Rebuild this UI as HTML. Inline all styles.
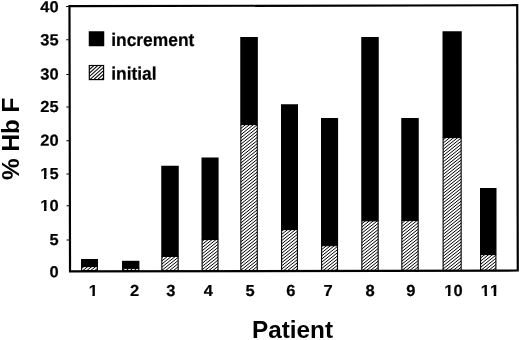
<!DOCTYPE html>
<html><head><meta charset="utf-8"><title>Patient Hb F</title>
<style>
html,body{margin:0;padding:0;background:#fff;}
body{width:520px;height:340px;overflow:hidden;}
svg{display:block;}
text{font-family:"Liberation Sans",Arial,Helvetica,sans-serif;font-weight:bold;fill:#000;}
.tk{font-size:16px;stroke:#000;stroke-width:0.2px;font-kerning:none;}
.lg{font-size:18.2px;stroke:#000;stroke-width:0.2px;}
.ti{font-size:24.3px;}
</style></head><body>
<svg width="520" height="340" viewBox="0 0 520 340">
<defs><filter id="soft" x="0" y="0" width="520" height="340" filterUnits="userSpaceOnUse"><feGaussianBlur stdDeviation="0.3"/></filter></defs>
<rect x="0" y="0" width="520" height="340" fill="#fff"/>
<g filter="url(#soft)">
<rect x="0" y="0" width="520" height="340" fill="#fff"/>

<g transform="rotate(-0.12 290 138)">
<rect x="69.75" y="5.7" width="447.75" height="265.3" fill="none" stroke="#000" stroke-width="2.2"/>
<line x1="66.4" y1="6.00" x2="69" y2="6.00" stroke="#000" stroke-width="1"/>
<line x1="66.4" y1="39.40" x2="69" y2="39.40" stroke="#000" stroke-width="1"/>
<line x1="66.4" y1="74.00" x2="69" y2="74.00" stroke="#000" stroke-width="1"/>
<line x1="66.4" y1="106.50" x2="69" y2="106.50" stroke="#000" stroke-width="1"/>
<line x1="66.4" y1="140.20" x2="69" y2="140.20" stroke="#000" stroke-width="1"/>
<line x1="66.4" y1="173.50" x2="69" y2="173.50" stroke="#000" stroke-width="1"/>
<line x1="66.4" y1="205.40" x2="69" y2="205.40" stroke="#000" stroke-width="1"/>
<line x1="66.4" y1="239.50" x2="69" y2="239.50" stroke="#000" stroke-width="1"/>
</g>
<rect x="81" y="259" width="17.00" height="7.50" fill="#000"/>
<rect x="122" y="260.8" width="17.40" height="7.50" fill="#000"/>
<rect x="161.25" y="165.75" width="17.50" height="90.65" fill="#000"/>
<rect x="201.5" y="157.5" width="17.10" height="82.00" fill="#000"/>
<rect x="240.25" y="37" width="17.60" height="87.50" fill="#000"/>
<rect x="281" y="104.25" width="17.00" height="125.25" fill="#000"/>
<rect x="321" y="118" width="17.10" height="127.60" fill="#000"/>
<rect x="361.25" y="37" width="17.50" height="183.75" fill="#000"/>
<rect x="401.25" y="118" width="17.50" height="102.50" fill="#000"/>
<rect x="442.5" y="31.25" width="19.25" height="106.25" fill="#000"/>
<rect x="480" y="188" width="16.50" height="66.50" fill="#000"/>
<clipPath id="hc"><rect x="81.60" y="266.55" width="15.80" height="3.95"/><rect x="122.60" y="268.35" width="16.20" height="2.15"/><rect x="161.85" y="256.45" width="16.30" height="14.05"/><rect x="202.10" y="239.55" width="15.90" height="30.95"/><rect x="240.85" y="124.55" width="16.40" height="145.95"/><rect x="281.60" y="229.55" width="15.80" height="40.95"/><rect x="321.60" y="245.65" width="15.90" height="24.85"/><rect x="361.85" y="220.80" width="16.30" height="49.70"/><rect x="401.85" y="220.55" width="16.30" height="49.95"/><rect x="443.10" y="137.55" width="18.05" height="132.95"/><rect x="480.60" y="254.55" width="15.30" height="15.95"/></clipPath>
<path clip-path="url(#hc)" d="M-429.19 340L-4.19 0M-425.25 340L-0.25 0M-421.31 340L3.69 0M-417.37 340L7.63 0M-413.44 340L11.56 0M-409.50 340L15.50 0M-405.56 340L19.44 0M-401.62 340L23.38 0M-397.69 340L27.31 0M-393.75 340L31.25 0M-389.81 340L35.19 0M-385.87 340L39.13 0M-381.94 340L43.06 0M-378.00 340L47.00 0M-374.06 340L50.94 0M-370.12 340L54.88 0M-366.19 340L58.81 0M-362.25 340L62.75 0M-358.31 340L66.69 0M-354.37 340L70.63 0M-350.44 340L74.56 0M-346.50 340L78.50 0M-342.56 340L82.44 0M-338.62 340L86.38 0M-334.69 340L90.31 0M-330.75 340L94.25 0M-326.81 340L98.19 0M-322.87 340L102.13 0M-318.94 340L106.06 0M-315.00 340L110.00 0M-311.06 340L113.94 0M-307.12 340L117.88 0M-303.19 340L121.81 0M-299.25 340L125.75 0M-295.31 340L129.69 0M-291.37 340L133.63 0M-287.44 340L137.56 0M-283.50 340L141.50 0M-279.56 340L145.44 0M-275.62 340L149.38 0M-271.69 340L153.31 0M-267.75 340L157.25 0M-263.81 340L161.19 0M-259.87 340L165.13 0M-255.94 340L169.06 0M-252.00 340L173.00 0M-248.06 340L176.94 0M-244.12 340L180.88 0M-240.19 340L184.81 0M-236.25 340L188.75 0M-232.31 340L192.69 0M-228.37 340L196.63 0M-224.44 340L200.56 0M-220.50 340L204.50 0M-216.56 340L208.44 0M-212.62 340L212.38 0M-208.69 340L216.31 0M-204.75 340L220.25 0M-200.81 340L224.19 0M-196.87 340L228.13 0M-192.94 340L232.06 0M-189.00 340L236.00 0M-185.06 340L239.94 0M-181.12 340L243.88 0M-177.19 340L247.81 0M-173.25 340L251.75 0M-169.31 340L255.69 0M-165.37 340L259.62 0M-161.44 340L263.56 0M-157.50 340L267.50 0M-153.56 340L271.44 0M-149.62 340L275.38 0M-145.69 340L279.31 0M-141.75 340L283.25 0M-137.81 340L287.19 0M-133.87 340L291.12 0M-129.94 340L295.06 0M-126.00 340L299.00 0M-122.06 340L302.94 0M-118.12 340L306.88 0M-114.19 340L310.81 0M-110.25 340L314.75 0M-106.31 340L318.69 0M-102.37 340L322.62 0M-98.44 340L326.56 0M-94.50 340L330.50 0M-90.56 340L334.44 0M-86.62 340L338.38 0M-82.69 340L342.31 0M-78.75 340L346.25 0M-74.81 340L350.19 0M-70.87 340L354.12 0M-66.94 340L358.06 0M-63.00 340L362.00 0M-59.06 340L365.94 0M-55.12 340L369.88 0M-51.19 340L373.81 0M-47.25 340L377.75 0M-43.31 340L381.69 0M-39.37 340L385.62 0M-35.44 340L389.56 0M-31.50 340L393.50 0M-27.56 340L397.44 0M-23.62 340L401.38 0M-19.69 340L405.31 0M-15.75 340L409.25 0M-11.81 340L413.19 0M-7.87 340L417.12 0M-3.94 340L421.06 0M0.00 340L425.00 0M3.94 340L428.94 0M7.87 340L432.88 0M11.81 340L436.81 0M15.75 340L440.75 0M19.69 340L444.69 0M23.62 340L448.62 0M27.56 340L452.56 0M31.50 340L456.50 0M35.44 340L460.44 0M39.37 340L464.38 0M43.31 340L468.31 0M47.25 340L472.25 0M51.19 340L476.19 0M55.12 340L480.12 0M59.06 340L484.06 0M63.00 340L488.00 0M66.94 340L491.94 0M70.87 340L495.88 0M74.81 340L499.81 0M78.75 340L503.75 0M82.69 340L507.69 0M86.62 340L511.62 0M90.56 340L515.56 0M94.50 340L519.50 0M98.44 340L523.44 0M102.37 340L527.38 0M106.31 340L531.31 0M110.25 340L535.25 0M114.19 340L539.19 0M118.12 340L543.12 0M122.06 340L547.06 0M126.00 340L551.00 0M129.94 340L554.94 0M133.87 340L558.88 0M137.81 340L562.81 0M141.75 340L566.75 0M145.69 340L570.69 0M149.62 340L574.62 0M153.56 340L578.56 0M157.50 340L582.50 0M161.44 340L586.44 0M165.37 340L590.38 0M169.31 340L594.31 0M173.25 340L598.25 0M177.19 340L602.19 0M181.12 340L606.12 0M185.06 340L610.06 0M189.00 340L614.00 0M192.94 340L617.94 0M196.87 340L621.88 0M200.81 340L625.81 0M204.75 340L629.75 0M208.69 340L633.69 0M212.62 340L637.62 0M216.56 340L641.56 0M220.50 340L645.50 0M224.44 340L649.44 0M228.37 340L653.38 0M232.31 340L657.31 0M236.25 340L661.25 0M240.19 340L665.19 0M244.12 340L669.12 0M248.06 340L673.06 0M252.00 340L677.00 0M255.94 340L680.94 0M259.87 340L684.88 0M263.81 340L688.81 0M267.75 340L692.75 0M271.69 340L696.69 0M275.62 340L700.62 0M279.56 340L704.56 0M283.50 340L708.50 0M287.44 340L712.44 0M291.37 340L716.38 0M295.31 340L720.31 0M299.25 340L724.25 0M303.19 340L728.19 0M307.12 340L732.12 0M311.06 340L736.06 0M315.00 340L740.00 0M318.94 340L743.94 0M322.87 340L747.88 0M326.81 340L751.81 0M330.75 340L755.75 0M334.69 340L759.69 0M338.62 340L763.62 0M342.56 340L767.56 0M346.50 340L771.50 0M350.44 340L775.44 0M354.37 340L779.38 0M358.31 340L783.31 0M362.25 340L787.25 0M366.19 340L791.19 0M370.12 340L795.12 0M374.06 340L799.06 0M378.00 340L803.00 0M381.94 340L806.94 0M385.87 340L810.88 0M389.81 340L814.81 0M393.75 340L818.75 0M397.69 340L822.69 0M401.62 340L826.62 0M405.56 340L830.56 0M409.50 340L834.50 0M413.44 340L838.44 0M417.37 340L842.38 0M421.31 340L846.31 0M425.25 340L850.25 0M429.19 340L854.19 0M433.12 340L858.12 0M437.06 340L862.06 0M441.00 340L866.00 0M444.94 340L869.94 0M448.87 340L873.88 0M452.81 340L877.81 0M456.75 340L881.75 0M460.69 340L885.69 0M464.62 340L889.62 0M468.56 340L893.56 0M472.50 340L897.50 0M476.44 340L901.44 0M480.37 340L905.38 0M484.31 340L909.31 0M488.25 340L913.25 0M492.19 340L917.19 0M496.12 340L921.12 0M500.06 340L925.06 0M504.00 340L929.00 0M507.94 340L932.94 0M511.87 340L936.88 0M515.81 340L940.81 0M519.75 340L944.75 0" stroke="#000" stroke-width="1.0" fill="none"/>
<rect x="81.60" y="266.55" width="15.80" height="3.95" fill="none" stroke="#000" stroke-width="1.1"/>
<rect x="122.60" y="268.35" width="16.20" height="2.15" fill="none" stroke="#000" stroke-width="1.1"/>
<rect x="161.85" y="256.45" width="16.30" height="14.05" fill="none" stroke="#000" stroke-width="1.1"/>
<rect x="202.10" y="239.55" width="15.90" height="30.95" fill="none" stroke="#000" stroke-width="1.1"/>
<rect x="240.85" y="124.55" width="16.40" height="145.95" fill="none" stroke="#000" stroke-width="1.1"/>
<rect x="281.60" y="229.55" width="15.80" height="40.95" fill="none" stroke="#000" stroke-width="1.1"/>
<rect x="321.60" y="245.65" width="15.90" height="24.85" fill="none" stroke="#000" stroke-width="1.1"/>
<rect x="361.85" y="220.80" width="16.30" height="49.70" fill="none" stroke="#000" stroke-width="1.1"/>
<rect x="401.85" y="220.55" width="16.30" height="49.95" fill="none" stroke="#000" stroke-width="1.1"/>
<rect x="443.10" y="137.55" width="18.05" height="132.95" fill="none" stroke="#000" stroke-width="1.1"/>
<rect x="480.60" y="254.55" width="15.30" height="15.95" fill="none" stroke="#000" stroke-width="1.1"/>
<g transform="translate(58.60 12.15) rotate(0.05) scale(1.03 1)"><text class="tk" text-anchor="end">40</text></g>
<g transform="translate(58.60 45.20) rotate(0.05) scale(1.03 1)"><text class="tk" text-anchor="end">35</text></g>
<g transform="translate(58.60 79.50) rotate(0.05) scale(1.03 1)"><text class="tk" text-anchor="end">30</text></g>
<g transform="translate(58.60 112.00) rotate(0.05) scale(1.03 1)"><text class="tk" text-anchor="end">25</text></g>
<g transform="translate(58.60 145.70) rotate(0.05) scale(1.03 1)"><text class="tk" text-anchor="end">20</text></g>
<g transform="translate(58.60 178.90) rotate(0.05) scale(1.03 1)"><text class="tk" text-anchor="end">15</text><rect x="-18.19" y="-2.53" width="4.00" height="3.63" fill="#fff"/><rect x="-11.74" y="-2.53" width="3.79" height="3.63" fill="#fff"/></g>
<g transform="translate(58.60 211.00) rotate(0.05) scale(1.03 1)"><text class="tk" text-anchor="end">10</text><rect x="-18.19" y="-2.53" width="4.00" height="3.63" fill="#fff"/><rect x="-11.74" y="-2.53" width="3.79" height="3.63" fill="#fff"/></g>
<g transform="translate(58.60 245.10) rotate(0.05) scale(1.03 1)"><text class="tk" text-anchor="end">5</text></g>
<g transform="translate(58.60 277.30) rotate(0.05) scale(1.03 1)"><text class="tk" text-anchor="end">0</text></g>
<g transform="translate(93.25 296.00) rotate(0.05) scale(1.03 1)"><text class="tk" text-anchor="middle">1</text><rect x="-4.84" y="-2.53" width="4.00" height="3.63" fill="#fff"/><rect x="1.61" y="-2.53" width="3.79" height="3.63" fill="#fff"/></g>
<g transform="translate(134.50 296.00) rotate(0.05) scale(1.03 1)"><text class="tk" text-anchor="middle">2</text></g>
<g transform="translate(170.75 296.00) rotate(0.05) scale(1.03 1)"><text class="tk" text-anchor="middle">3</text></g>
<g transform="translate(208.25 296.00) rotate(0.05) scale(1.03 1)"><text class="tk" text-anchor="middle">4</text></g>
<g transform="translate(250.00 296.00) rotate(0.05) scale(1.03 1)"><text class="tk" text-anchor="middle">5</text></g>
<g transform="translate(290.75 296.00) rotate(0.05) scale(1.03 1)"><text class="tk" text-anchor="middle">6</text></g>
<g transform="translate(328.00 296.00) rotate(0.05) scale(1.03 1)"><text class="tk" text-anchor="middle">7</text></g>
<g transform="translate(370.00 296.00) rotate(0.05) scale(1.03 1)"><text class="tk" text-anchor="middle">8</text></g>
<g transform="translate(410.90 296.00) rotate(0.05) scale(1.03 1)"><text class="tk" text-anchor="middle">9</text></g>
<g transform="translate(453.40 296.00) rotate(0.05) scale(1.03 1)"><text class="tk" text-anchor="middle">10</text><rect x="-9.29" y="-2.53" width="4.00" height="3.63" fill="#fff"/><rect x="-2.84" y="-2.53" width="3.79" height="3.63" fill="#fff"/></g>
<g transform="translate(490.00 296.00) rotate(0.05) scale(1.03 1)"><text class="tk" text-anchor="middle">11</text><rect x="-9.29" y="-2.53" width="4.00" height="3.63" fill="#fff"/><rect x="-2.84" y="-2.53" width="3.79" height="3.63" fill="#fff"/><rect x="-0.39" y="-2.53" width="4.00" height="3.63" fill="#fff"/><rect x="6.06" y="-2.53" width="3.79" height="3.63" fill="#fff"/></g>
<rect x="88.75" y="31.25" width="15.5" height="15" fill="#000"/>
<clipPath id="lc"><rect x="89.3" y="65.5" width="14.3" height="14.1"/></clipPath>
<path clip-path="url(#lc)" d="M49.20 85L82.53 55M53.05 85L86.38 55M56.90 85L90.23 55M60.75 85L94.08 55M64.60 85L97.93 55M68.45 85L101.78 55M72.30 85L105.63 55M76.15 85L109.48 55M80.00 85L113.33 55M83.85 85L117.18 55M87.70 85L121.03 55M91.55 85L124.88 55M95.40 85L128.73 55M99.25 85L132.58 55M103.10 85L136.43 55M106.95 85L140.28 55" stroke="#000" stroke-width="1.05" fill="none"/>
<rect x="89.3" y="65.5" width="14.3" height="14.1" fill="none" stroke="#000" stroke-width="1.15"/>
<text class="lg" transform="translate(111.2 46) rotate(0.05) scale(0.956 1)">increment</text>
<text class="lg" transform="translate(111.2 79.8) rotate(0.05) scale(0.956 1)">initial</text>
<text class="ti" x="292.5" y="337.7" text-anchor="middle">Patient</text>
<text class="ti" transform="translate(19 138.8) rotate(-90)" text-anchor="middle">% Hb F</text>
</g></svg></body></html>
